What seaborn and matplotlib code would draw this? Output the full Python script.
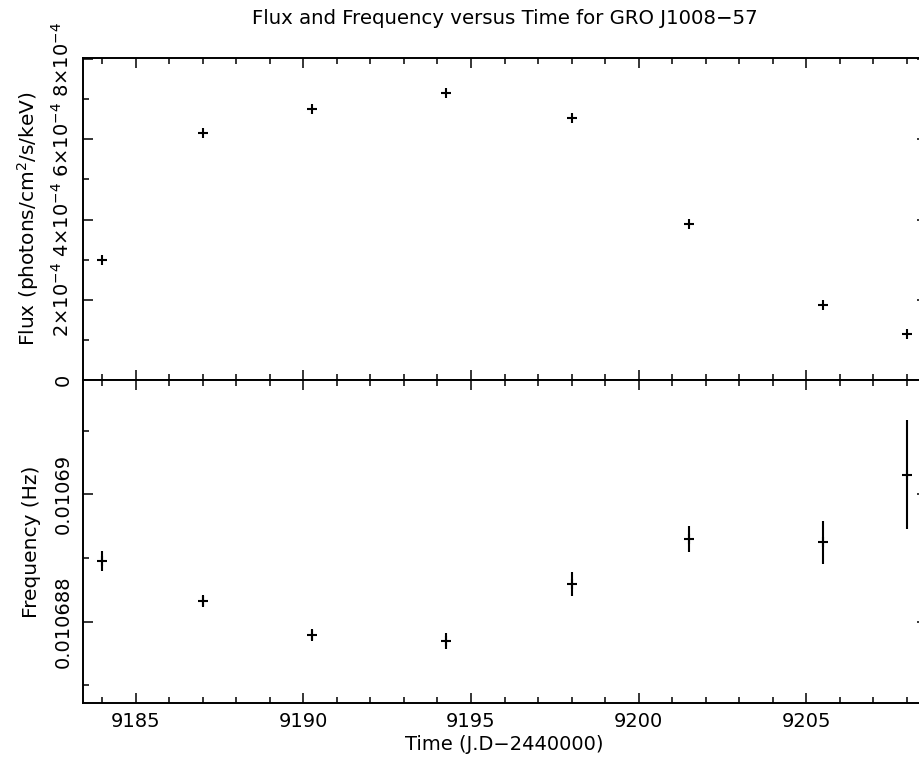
import matplotlib

matplotlib.use("Agg")
import matplotlib.pyplot as plt
import seaborn as sns
from matplotlib.ticker import FixedLocator, MultipleLocator


# Values (GRO J1008-57)
time_jd = [9184.0, 9187.0, 9190.25, 9194.25, 9198.0, 9201.5, 9205.5, 9208.0]
flux = [2.99e-4, 6.15e-4, 6.76e-4, 7.15e-4, 6.54e-4, 3.88e-4, 1.87e-4, 1.15e-4]
freq = [0.010688948, 0.010688325, 0.010687791, 0.010687697,
        0.010688592, 0.010689298, 0.010689246, 0.010690303]
freq_err = [0.157e-6, 0.089e-6, 0.094e-6, 0.126e-6,
            0.188e-6, 0.204e-6, 0.338e-6, 0.856e-6]

flux_ticks = [0.0, 2e-4, 4e-4, 6e-4, 8e-4]
flux_tick_labels = ["0", r"$2{\times}10^{-4}$", r"$4{\times}10^{-4}$",
                    r"$6{\times}10^{-4}$", r"$8{\times}10^{-4}$"]
flux_minor = [1e-4, 3e-4, 5e-4, 7e-4]
freq_ticks = [0.010688, 0.010690]
freq_tick_labels = ["0.010688", "0.01069"]
freq_minor = [0.010687, 0.010689, 0.010691]

TITLE = "Flux and Frequency versus Time for GRO J1008\u221257"
XLABEL = "Time (J.D\u22122440000)"
FLUX_LABEL = r"Flux (photons/cm$^2$/s/keV)"
FREQ_LABEL = "Frequency (Hz)"


def style_axis(ax):
    for spine in ax.spines.values():
        spine.set_linewidth(1.4)
        spine.set_color("black")
    ax.xaxis.set_major_locator(MultipleLocator(5))
    ax.xaxis.set_minor_locator(MultipleLocator(1))
    ax.tick_params(which="both", direction="in", top=True, right=True,
                   width=1.1, color="black", labelcolor="black",
                   labelsize=14, pad=7)
    ax.tick_params(which="major", length=7.5)
    ax.tick_params(which="minor", length=4)
    ax.set_xlim(9183.42, 9208.59)
    ax.grid(False)


def main():
    sns.set_theme(style="ticks")
    plt.rcParams["font.family"] = ["DejaVu Sans"]
    plt.rcParams["mathtext.fontset"] = "dejavusans"
    plt.rcParams["text.color"] = "black"
    plt.rcParams["axes.labelcolor"] = "black"

    fig = plt.figure(figsize=(9.2, 7.58), dpi=100)
    ax_flux = fig.add_axes([0.0899, 0.4987, 0.9174, 0.4254])
    ax_freq = fig.add_axes([0.0899, 0.0730, 0.9174, 0.4257])

    sns.scatterplot(x=time_jd, y=flux, marker="+", s=60, color="black",
                    linewidth=1.5, ax=ax_flux)
    ax_freq.errorbar(time_jd, freq, yerr=freq_err, fmt="none",
                     ecolor="black", elinewidth=1.5, capsize=0)
    sns.scatterplot(x=time_jd, y=freq, marker="+", s=60, color="black",
                    linewidth=1.5, ax=ax_freq)

    for ax in (ax_flux, ax_freq):
        style_axis(ax)

    ax_flux.set_ylim(0, 8.04e-4)
    ax_flux.yaxis.set_major_locator(FixedLocator(flux_ticks))
    ax_flux.yaxis.set_minor_locator(FixedLocator(flux_minor))
    ax_flux.set_yticklabels(flux_tick_labels, rotation=90, va="center")
    ax_flux.tick_params(labelbottom=False)
    ax_flux.set_ylabel(FLUX_LABEL, fontsize=14.5)
    ax_flux.yaxis.set_label_coords(-0.05, 0.5)

    ax_freq.set_ylim(0.010686728, 0.010691794)
    ax_freq.yaxis.set_major_locator(FixedLocator(freq_ticks))
    ax_freq.yaxis.set_minor_locator(FixedLocator(freq_minor))
    ax_freq.set_yticklabels(freq_tick_labels, rotation=90, va="center")
    ax_freq.set_ylabel(FREQ_LABEL, fontsize=14.5)
    ax_freq.yaxis.set_label_coords(-0.05, 0.5)
    ax_freq.set_xlabel(XLABEL, fontsize=14, va="top")
    ax_freq.xaxis.set_label_coords(0.5, -0.1)

    fig.text(505 / 920, 1 - 18 / 758, TITLE, ha="center", va="center",
             fontsize=14.2)

    fig.savefig("out.png", dpi=100, facecolor="white")
    plt.close(fig)


if __name__ == "__main__":
    main()
